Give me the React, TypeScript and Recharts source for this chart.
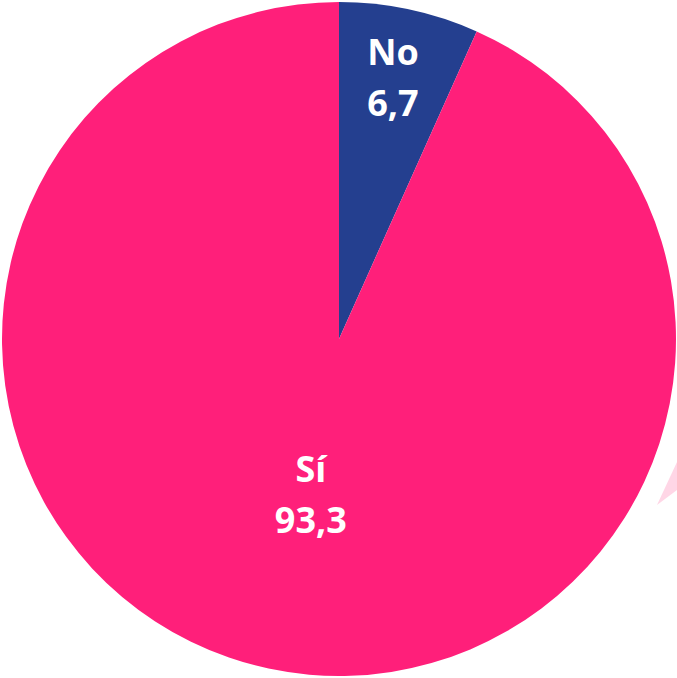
import React from "react";
import { PieChart, Pie, Cell } from "recharts";

const categories = ["No", "Sí"];
const values = [6.7, 93.3];
const colors = ["#243F8F", "#FF1F7A"];

const data = categories.map((name, i) => ({ name, value: values[i] }));

const RAD = Math.PI / 180;

const renderLabel = (props: any) => {
  const { cx, cy, midAngle, outerRadius, index, name, value } = props;
  const f = index === 0 ? 0.766 : 0.4;
  const off = index === 0 ? -22 : 11;
  const r = outerRadius * f;
  const x = cx + r * Math.cos(-midAngle * RAD);
  const y = cy + r * Math.sin(-midAngle * RAD);
  const txt = String(value).replace(".", ",");
  return (
    <text
      x={x}
      y={y + off}
      fill="#FFFFFF"
      textAnchor="middle"
      fontFamily="'Open Sans', sans-serif"
      fontWeight="bold"
      fontSize={36}
    >
      <tspan x={x} dy={0}>{name}</tspan>
      <tspan x={x} dy={51}>{txt}</tspan>
    </text>
  );
};

export default function App() {
  return (
    <div style={{ position: "absolute", left: 0, top: 0, width: 677, height: 678, background: "#fff" }}>
      <PieChart width={677} height={678} margin={{ top: 0, right: 0, bottom: 0, left: 0 }}>
        <Pie
          data={data}
          dataKey="value"
          nameKey="name"
          cx={339}
          cy={339}
          outerRadius={337}
          innerRadius={0}
          startAngle={90}
          endAngle={-270}
          stroke="none"
          label={renderLabel}
          labelLine={false}
          isAnimationActive={false}
        >
          {data.map((d, i) => (
            <Cell key={d.name} fill={colors[i]} />
          ))}
        </Pie>
      </PieChart>
      <svg width={677} height={678} style={{ position: "absolute", left: 0, top: 0, pointerEvents: "none" }}>
        <polygon points="677,462 657,505 677,490" fill="#FFD6E6" />
      </svg>
    </div>
  );
}
